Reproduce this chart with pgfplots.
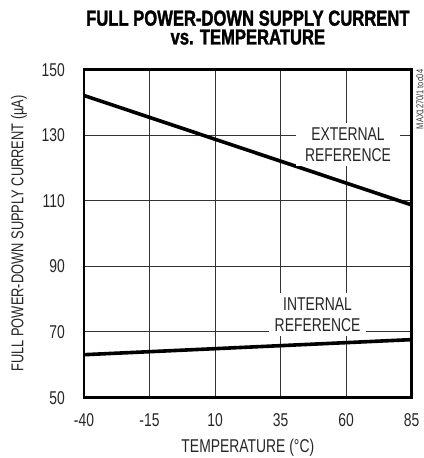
\documentclass[border=0pt]{standalone}
\usepackage{fontspec}
\setmainfont{Liberation Sans}[FakeStretch=0.75]
\newfontfamily\titlefont{Liberation Sans}[FakeStretch=0.765, UprightFont=*-Bold, FakeBold=1.5]
\usepackage{pgfplots}
\pgfplotsset{compat=1.18}
\newcommand{\lbl}{\fontsize{18.6}{21}\selectfont}
\begin{document}
\begin{tikzpicture}
\begin{axis}[
  at={(0,0)}, anchor=south west,
  scale only axis, width=327.7bp, height=327.7bp,
  xmin=-40, xmax=85, ymin=50, ymax=150,
  xtick={-40,-15,10,35,60,85},
  ytick={50,70,90,110,130,150},
  grid=major,
  major grid style={line width=1.1bp, black!80},
  axis line style={line width=2.6bp},
  tick style={draw=none},
  /pgf/number format/assume math mode=true,
  ticklabel style={font=\lbl, text=black!85, inner sep=0pt},
  xticklabel style={anchor=base, yshift=-29.6bp},
  yticklabel style={anchor=base east, xshift=-19bp, yshift=-6.7bp},
  xlabel={TEMPERATURE (°C)},
  ylabel={FULL POWER-DOWN SUPPLY CURRENT (µA)},
  xlabel style={font=\lbl, text=black!85, inner sep=0pt,
    at={([yshift=-55.4bp]axis description cs:0.5,0)}, anchor=base},
  ylabel style={font=\fontsize{17.2}{20}\selectfont, text=black!85, inner sep=0pt,
    at={([xshift=-60.7bp]axis description cs:0,0.5)}, anchor=base, rotate=0},
  clip=false,
]
\addplot[line width=3.6bp, black] coordinates {(-40,142.1) (85,108.7)};
\addplot[line width=3.6bp, black] coordinates {(-40,63.0) (85,67.6)};
\node[fill=white, align=center, inner xsep=9bp, inner ysep=5bp,
      font=\fontsize{18.6}{20.8}\selectfont, text=black!85]
  at (axis cs:60.7,127.1) {EXTERNAL\\REFERENCE};
\node[fill=white, align=center, inner xsep=6bp, inner ysep=5bp,
      font=\fontsize{18.6}{20.3}\selectfont, text=black!85]
  at (axis cs:49.1,75.2) {INTERNAL\\REFERENCE};
\node[rotate=90, anchor=base east, inner sep=0pt, font=\fontsize{10}{11}\selectfont, text=black!80]
  at ([xshift=11.6bp]rel axis cs:1,1) {MAX1270/1 toc04};
\node[anchor=south, inner sep=0pt, align=center, font=\fontsize{21.8}{18.9}\titlefont]
  at ([yshift=24.7bp]rel axis cs:0.5,1) {FULL POWER-DOWN SUPPLY CURRENT\\vs. TEMPERATURE};
\end{axis}
\path (-84bp,-60.7bp) rectangle (340bp,397.3bp);
\end{tikzpicture}
\end{document}
